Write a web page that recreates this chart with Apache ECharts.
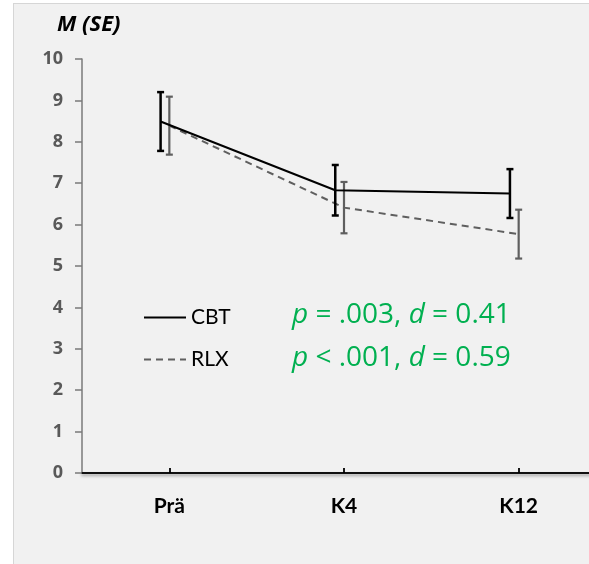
<!DOCTYPE html>
<html>
<head>
<meta charset="utf-8">
<script src="https://cdn.jsdelivr.net/npm/echarts@6/dist/echarts.min.js"></script>
<style>
html,body{margin:0;padding:0;background:#fff;overflow:hidden;width:589px;height:564px;}
#frame{position:absolute;left:13px;top:3px;width:600px;height:600px;background:#f1f1f1;border-left:1.5px solid #d6d6d6;border-top:1.5px solid #d6d6d6;box-sizing:border-box;}
#chart{position:absolute;left:0;top:0;width:620px;height:564px;}
</style>
</head>
<body>
<div id="frame"></div>
<div id="chart"></div>
<script>
// ---- data ----
const categories = ['Prä', 'K4', 'K12'];
const yTicks = [0, 1, 2, 3, 4, 5, 6, 7, 8, 9, 10];
const cbtMean = [8.49, 6.83, 6.75];
const cbtSE = [0.71, 0.61, 0.59];
const rlxMean = [8.39, 6.41, 5.77];
const rlxSE = [0.70, 0.62, 0.59];
const statsCBT = ['p', ' = .003, ', 'd', ' = 0.41'];
const statsRLX = ['p', ' < .001, ', 'd', ' = 0.59'];

// ---- build ----
const CBT_OFF = -0.05, RLX_OFF = 0.0;
const pts = (m, off) => m.map((v, i) => [i + off, v]);
const bars = (m, s, off) => m.map((v, i) => [i + off, v - s[i], v + s[i]]);

function errRender(color, width, cap) {
  return function (params, api) {
    const x = api.value(0);
    const lo = api.coord([x, api.value(1)]);
    const hi = api.coord([x, api.value(2)]);
    const st = { stroke: color, lineWidth: width };
    return {
      type: 'group',
      children: [
        { type: 'line', shape: { x1: lo[0], y1: lo[1], x2: hi[0], y2: hi[1] }, style: st },
        { type: 'line', shape: { x1: lo[0] - cap, y1: lo[1], x2: lo[0] + cap, y2: lo[1] }, style: st },
        { type: 'line', shape: { x1: hi[0] - cap, y1: hi[1], x2: hi[0] + cap, y2: hi[1] }, style: st }
      ]
    };
  };
}

const GF = "'Open Sans'";
const GS = 28;
const richStats = (arr) => ({
  text: '{i|' + arr[0] + '}{n|' + arr[1] + '}{i|' + arr[2] + '}{n|' + arr[3] + '}',
  fill: '#00b050',
  rich: {
    i: { fontStyle: 'italic', fontSize: GS, fontFamily: GF, fill: '#00b050' },
    n: { fontSize: GS, fontFamily: GF, fill: '#00b050' }
  }
});

const chart = echarts.init(document.getElementById('chart'), null, { renderer: 'canvas' });
chart.setOption({
  backgroundColor: 'transparent',
  animation: false,
  textStyle: { fontFamily: 'Lato' },
  title: {
    text: 'M (SE)', left: 52, top: 9,
    textStyle: { fontSize: 22, fontWeight: 'bold', fontStyle: 'italic', color: '#000', fontFamily: GF }
  },
  grid: { left: 82, top: 59, bottom: 91, right: 14, containLabel: false },
  legend: {
    data: ['CBT', 'RLX'], orient: 'vertical', left: 138, top: 302,
    itemWidth: 42, itemHeight: 22, itemGap: 21,
    itemStyle: { opacity: 0 },
    textStyle: { fontSize: 21, color: '#000', fontFamily: 'Lato', padding: [0, 0, 0, 0] }
  },
  xAxis: [
    {
      type: 'category', data: categories, position: 'bottom', boundaryGap: true,
      axisLine: { onZero: false, lineStyle: { color: '#111', width: 2, shadowColor: 'rgba(0,0,0,0.35)', shadowBlur: 3, shadowOffsetY: 2 } },
      axisTick: { alignWithLabel: true, length: 6, lineStyle: { color: '#000', width: 1.8 } },
      axisLabel: { margin: 23, fontSize: 21, fontWeight: 'bold', color: '#000', fontFamily: 'Lato' },
      splitLine: { show: false }
    },
    {
      type: 'category', data: categories, position: 'bottom', boundaryGap: true,
      axisLine: { show: false, onZero: false },
      axisTick: { show: true, alignWithLabel: true, inside: true, length: 5, lineStyle: { color: '#000', width: 1.8 } },
      axisLabel: { show: false },
      splitLine: { show: false }
    },
    { type: 'value', min: -0.5, max: 2.5, show: false }
  ],
  yAxis: {
    type: 'value', min: yTicks[0], max: yTicks[yTicks.length - 1], interval: 1,
    axisLine: { show: true, onZero: false, lineStyle: { color: '#7a7a7a', width: 1.5 } },
    axisTick: { show: true, length: 7, lineStyle: { color: '#7a7a7a', width: 1.5 } },
    axisLabel: { margin: 19, fontSize: 18, fontWeight: 'bold', color: '#595959', fontFamily: GF },
    splitLine: { show: false }
  },
  series: [
    {
      name: 'CBT', type: 'line', xAxisIndex: 2, data: pts(cbtMean, CBT_OFF),
      symbol: 'none', lineStyle: { color: '#000', width: 2 }, itemStyle: { color: '#000' }, z: 4
    },
    {
      name: 'RLX', type: 'line', xAxisIndex: 2, data: pts(rlxMean, RLX_OFF),
      symbol: 'none', lineStyle: { color: '#5f5f5f', width: 2, type: [7, 5] }, itemStyle: { color: '#5f5f5f' }, z: 3
    },
    {
      name: 'CBT SE', type: 'custom', xAxisIndex: 2, data: bars(cbtMean, cbtSE, CBT_OFF),
      renderItem: errRender('#000', 2.5, 3.5), z: 5
    },
    {
      name: 'RLX SE', type: 'custom', xAxisIndex: 2, data: bars(rlxMean, rlxSE, RLX_OFF),
      renderItem: errRender('#5f5f5f', 2.2, 3.5), z: 4
    }
  ],
  graphic: [
    { type: 'text', left: 292, top: 301, style: richStats(statsCBT) },
    { type: 'text', left: 292, top: 344, style: richStats(statsRLX) }
  ]
});
</script>
</body>
</html>
